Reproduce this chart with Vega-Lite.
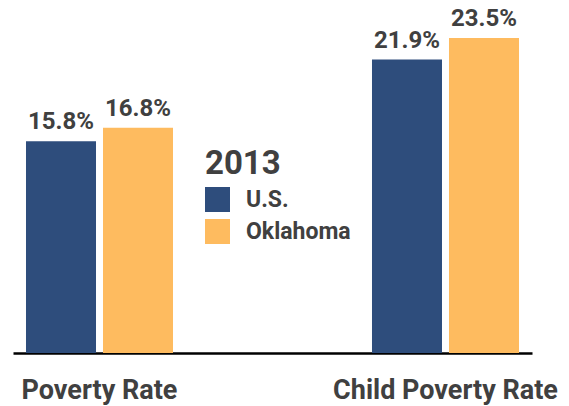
{
  "$schema": "https://vega.github.io/schema/vega-lite/v6.json",
  "autosize": {"type": "none"},
  "padding": {"left": 13, "top": 0, "right": 37, "bottom": 53},
  "width": 519,
  "height": 353,
  "background": "white",
  "data": {
    "values": [
      {"group": "Poverty Rate", "series": "U.S.", "value": 15.8, "label": "15.8%"},
      {"group": "Poverty Rate", "series": "Oklahoma", "value": 16.8, "label": "16.8%"},
      {"group": "Child Poverty Rate", "series": "U.S.", "value": 21.9, "label": "21.9%"},
      {"group": "Child Poverty Rate", "series": "Oklahoma", "value": 23.5, "label": "23.5%"}
    ]
  },
  "encoding": {
    "x": {
      "field": "group",
      "type": "nominal",
      "sort": ["Poverty Rate", "Child Poverty Rate"],
      "scale": {"paddingInner": 0.5751, "paddingOuter": 0.03757},
      "axis": {
        "title": null,
        "labelAngle": 0,
        "ticks": false,
        "tickSize": 0,
        "labelPadding": 24,
        "labelFontSize": 27,
        "labelFontWeight": "bold",
        "labelColor": "#404040",
        "labelFont": "Roboto",
        "domainColor": "#000000",
        "domainWidth": 2.5,
        "grid": false,
        "labelLimit": 400
      }
    },
    "xOffset": {
      "field": "series",
      "type": "nominal",
      "sort": ["U.S.", "Oklahoma"],
      "scale": {"paddingInner": 0.0909, "paddingOuter": 0}
    },
    "y": {
      "field": "value",
      "type": "quantitative",
      "scale": {"domain": [0, 26.34], "nice": false, "zero": true},
      "axis": null
    }
  },
  "layer": [
    {
      "mark": {"type": "bar"},
      "encoding": {
        "color": {
          "field": "series",
          "type": "nominal",
          "sort": ["U.S.", "Oklahoma"],
          "scale": {"domain": ["U.S.", "Oklahoma"], "range": ["#2E4D7C", "#FEBB5F"]},
          "legend": {
            "title": "2013",
            "orient": "none",
            "legendX": 192,
            "legendY": 148,
            "padding": 0,
            "titleFontSize": 33,
            "titleFontWeight": "bold",
            "titleColor": "#404040",
            "titleFont": "Roboto",
            "titlePadding": 6,
            "symbolType": "square",
            "symbolSize": 625,
            "symbolStrokeWidth": 0,
            "symbolOpacity": 1,
            "labelFontSize": 23,
            "labelFontWeight": "bold",
            "labelColor": "#404040",
            "labelFont": "Roboto",
            "labelOffset": 16,
            "rowPadding": 7
          }
        }
      }
    },
    {
      "mark": {
        "type": "text",
        "baseline": "alphabetic",
        "dy": -12,
        "fontSize": 24,
        "fontWeight": "bold",
        "color": "#404040",
        "font": "Roboto"
      },
      "encoding": {
        "text": {"field": "label", "type": "nominal"}
      }
    }
  ],
  "config": {
    "view": {"stroke": null}
  }
}
